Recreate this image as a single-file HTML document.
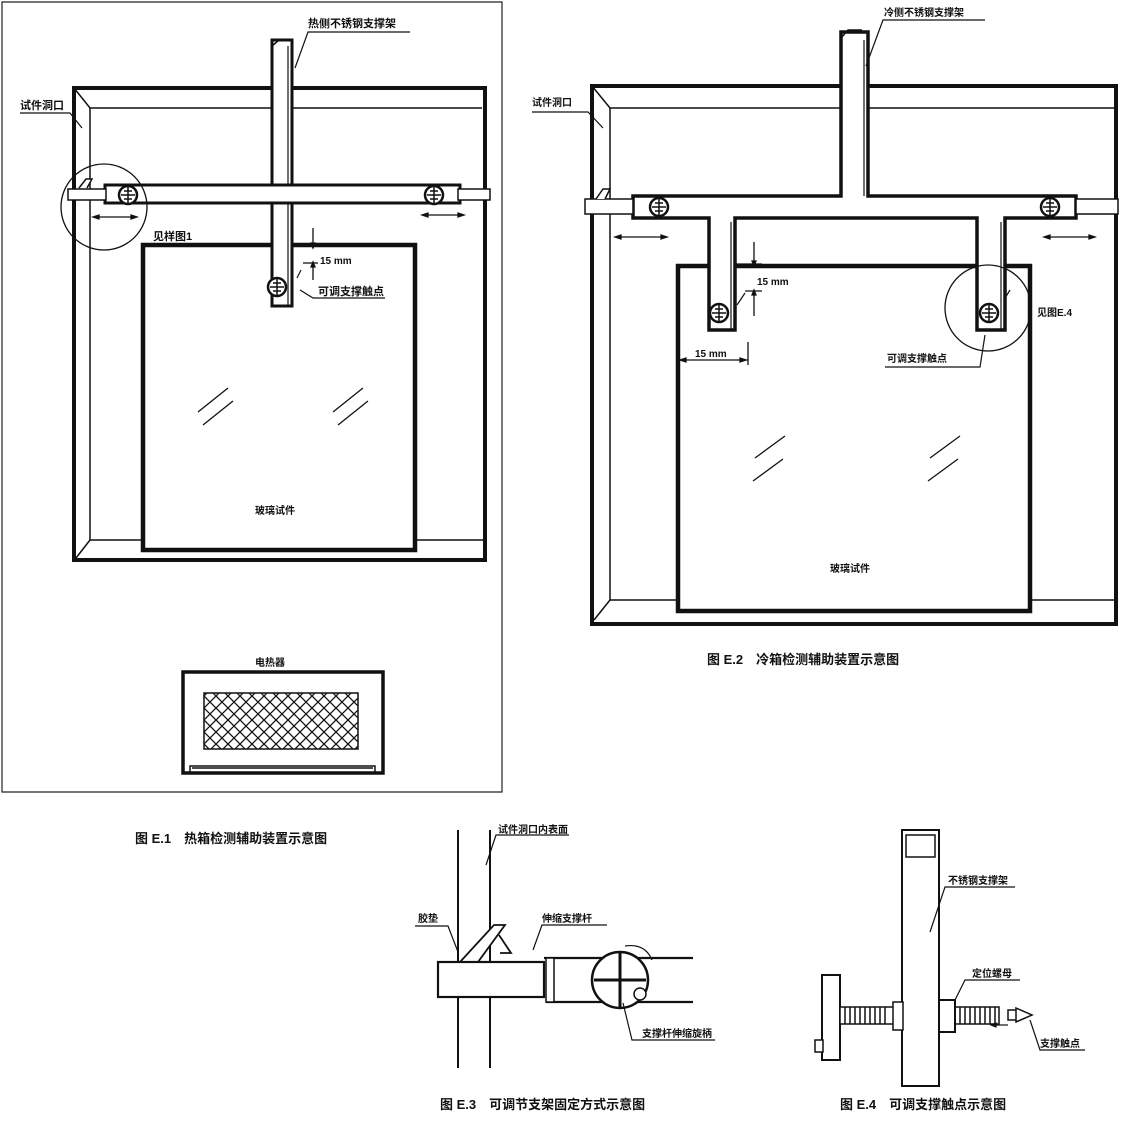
<!DOCTYPE html>
<html><head><meta charset="utf-8"><style>
html,body{margin:0;padding:0;background:#fff;}
svg{display:block;}
text{font-family:"Liberation Sans","Noto Sans CJK SC",sans-serif;font-weight:bold;fill:#111;}
</style></head><body>
<svg width="1134" height="1134" viewBox="0 0 1134 1134" xmlns="http://www.w3.org/2000/svg">
<defs>
<g id="wh">
<circle cx="0" cy="0" r="9" fill="#fff" stroke="#111" stroke-width="2.5"/>
<line x1="-7" y1="0" x2="7" y2="0" stroke="#111" stroke-width="1.5"/>
<line x1="-4" y1="-4" x2="4" y2="-4" stroke="#111" stroke-width="1.5"/>
<line x1="-4" y1="4" x2="4" y2="4" stroke="#111" stroke-width="1.5"/>
<line x1="0" y1="-8" x2="0" y2="8" stroke="#111" stroke-width="1.5"/>
</g>
<pattern id="mesh" width="12" height="12" patternUnits="userSpaceOnUse">
<path d="M0 0L12 12M12 0L0 12" stroke="#111" stroke-width="1.3"/>
</pattern>
</defs>

<!-- ============ E.1 ============ -->
<path d="M2 2H502V792H2Z" fill="none" stroke="#222" stroke-width="1.2"/>
<g fill="none" stroke="#111">
<rect x="74" y="88" width="411" height="472" stroke-width="4"/>
<path d="M74 88L90 108H482" stroke-width="1.5"/>
<path d="M90 108V540H143M415 540H483" stroke-width="1.5"/>
<path d="M90 540L76 558" stroke-width="1.5"/>
<rect x="143" y="245" width="272" height="305" stroke-width="4.5"/>
<path d="M198 412L228 388M203 425L233 401M333 412L363 388M338 425L368 401" stroke-width="1.3"/>
</g>
<!-- vertical bar -->
<rect x="272" y="40" width="20" height="266" fill="#fff" stroke="#111" stroke-width="3"/>
<path d="M272 46L279 40H292" fill="none" stroke="#111" stroke-width="1.5"/>
<line x1="288" y1="46" x2="288" y2="306" stroke="#111" stroke-width="1.2"/>
<!-- horizontal bar -->
<rect x="105" y="185" width="355" height="18" fill="#fff" stroke="#111" stroke-width="3"/>
<rect x="68" y="189" width="38" height="11" fill="#fff" stroke="#111" stroke-width="1.5"/>
<rect x="458" y="189" width="32" height="11" fill="#fff" stroke="#111" stroke-width="1.5"/>
<rect x="274" y="187" width="16" height="14" fill="#fff"/>
<path d="M79 188L86 179H92L87 188" fill="#fff" stroke="#111" stroke-width="1.5"/>
<use href="#wh" x="128" y="195"/><use href="#wh" x="434" y="195"/>
<use href="#wh" x="277" y="287"/>
<circle cx="104" cy="207" r="43" fill="none" stroke="#111" stroke-width="1.3"/>
<!-- arrows -->
<g stroke="#111" stroke-width="1.3" fill="#111">
<line x1="95" y1="217" x2="135" y2="217"/><path d="M93 217l6-2v4z M137 217l-6-2v4z"/>
<line x1="424" y1="215" x2="462" y2="215"/><path d="M422 215l6-2v4z M464 215l-6-2v4z"/>
<line x1="313" y1="228" x2="313" y2="248"/><path d="M313 248l-2-5h4z"/>
<line x1="313" y1="262" x2="313" y2="280"/><path d="M313 262l-2 5h4z"/>
<line x1="303" y1="246" x2="318" y2="246"/><line x1="303" y1="263" x2="318" y2="263"/>
</g>
<!-- leaders -->
<g fill="none" stroke="#111" stroke-width="1.2">
<path d="M295 68L308 32H410"/>
<path d="M82 128L70 113H20"/>
<path d="M300 290L313 298H385"/>
<path d="M297 278L301 270"/>
</g>
<text x="308" y="27" font-size="11">热侧不锈钢支撑架</text>
<text x="20" y="109" font-size="11">试件洞口</text>
<text x="153" y="240" font-size="11">见样图1</text>
<text x="320" y="264" font-size="10" font-weight="normal">15 mm</text>
<text x="318" y="295" font-size="11">可调支撑触点</text>
<text x="255" y="514" font-size="10">玻璃试件</text>
<!-- heater -->
<text x="255" y="666" font-size="10">电热器</text>
<rect x="183" y="672" width="200" height="101" fill="#fff" stroke="#111" stroke-width="3.5"/>
<rect x="204" y="693" width="154" height="56" fill="url(#mesh)" stroke="#111" stroke-width="1.5"/>
<path d="M190 773V766H375V773M192 768H373" fill="none" stroke="#111" stroke-width="1.5"/>
<text x="135" y="843" font-size="13">图 E.1　热箱检测辅助装置示意图</text>

<!-- ============ E.2 ============ -->
<g fill="none" stroke="#111">
<rect x="592" y="86" width="524" height="538" stroke-width="4"/>
<path d="M592 86L610 108H1114" stroke-width="1.5"/>
<path d="M610 108V600H678M1030 600H1114" stroke-width="1.5"/>
<path d="M610 600L594 620" stroke-width="1.5"/>
<rect x="678" y="266" width="352" height="345" stroke-width="4.5"/>
<path d="M755 458L785 436M753 481L783 459M930 458L960 436M928 481L958 459" stroke-width="1.3"/>
</g>
<!-- T frame -->
<path d="M841 32V196H633V218H709V330H735V218H977V330H1005V218H1076V196H868V32Z" fill="#fff" stroke="#111" stroke-width="3.5"/>
<path d="M841 38L848 30H862" fill="none" stroke="#111" stroke-width="1.5"/>
<line x1="864" y1="40" x2="864" y2="196" stroke="#111" stroke-width="1.2"/>
<line x1="731" y1="222" x2="731" y2="330" stroke="#111" stroke-width="1.2"/>
<line x1="1001" y1="222" x2="1001" y2="330" stroke="#111" stroke-width="1.2"/>
<rect x="585" y="199" width="48" height="15" fill="#fff" stroke="#111" stroke-width="1.5"/>
<rect x="1076" y="199" width="42" height="15" fill="#fff" stroke="#111" stroke-width="1.5"/>
<path d="M596 199L603 189H610L605 199" fill="#fff" stroke="#111" stroke-width="1.5"/>
<use href="#wh" x="659" y="207"/><use href="#wh" x="1050" y="207"/>
<use href="#wh" x="719" y="313"/><use href="#wh" x="989" y="313"/>
<circle cx="988" cy="308" r="43" fill="none" stroke="#111" stroke-width="1.3"/>
<g stroke="#111" stroke-width="1.3" fill="#111">
<line x1="617" y1="237" x2="665" y2="237"/><path d="M615 237l6-2v4z M667 237l-6-2v4z"/>
<line x1="1046" y1="237" x2="1093" y2="237"/><path d="M1044 237l6-2v4z M1095 237l-6-2v4z"/>
<line x1="754" y1="242" x2="754" y2="266"/><path d="M754 266l-2-5h4z"/>
<line x1="754" y1="290" x2="754" y2="316"/><path d="M754 290l-2 5h4z"/>
<line x1="736" y1="264" x2="762" y2="264"/><line x1="745" y1="291" x2="762" y2="291"/>
<line x1="678" y1="360" x2="748" y2="360"/><path d="M680 360l6-2v4z M746 360l-6-2v4z"/>
<line x1="748" y1="342" x2="748" y2="365"/>
</g>
<g fill="none" stroke="#111" stroke-width="1.2">
<path d="M866 66L883 20H985"/>
<path d="M603 128L588 112H532"/>
<path d="M737 305L745 293"/>
<path d="M985 335L980 367H885"/>
<path d="M1005 298L1010 290"/>
</g>
<text x="884" y="16" font-size="10">冷侧不锈钢支撑架</text>
<text x="532" y="106" font-size="10" font-weight="normal">试件洞口</text>
<text x="757" y="285" font-size="10" font-weight="normal">15 mm</text>
<text x="695" y="357" font-size="10" font-weight="normal">15 mm</text>
<text x="1037" y="316" font-size="10" font-weight="normal">见图E.4</text>
<text x="887" y="362" font-size="10">可调支撑触点</text>
<text x="830" y="572" font-size="10" font-weight="normal">玻璃试件</text>
<text x="707" y="664" font-size="13">图 E.2　冷箱检测辅助装置示意图</text>

<!-- ============ E.3 ============ -->
<g fill="none" stroke="#111" stroke-width="2">
<line x1="458" y1="830" x2="458" y2="1068"/>
<line x1="490" y1="830" x2="490" y2="1068"/>
</g>
<path d="M460 962L494 925H505L478 962Z" fill="#fff" stroke="#111" stroke-width="1.8"/>
<path d="M499 935L511 953H500" fill="#fff" stroke="#111" stroke-width="1.8"/>
<rect x="438" y="962" width="106" height="35" fill="#fff" stroke="#111" stroke-width="2.2"/>
<path d="M544 958H693M546 1002H693" fill="none" stroke="#111" stroke-width="2.2"/>
<rect x="546" y="958" width="8" height="44" fill="#fff" stroke="#111" stroke-width="1.5"/>
<ellipse cx="620" cy="980" rx="28" ry="28" fill="#fff" stroke="#111" stroke-width="2.5"/>
<path d="M594 980H646M620 953V1007" stroke="#111" stroke-width="3"/>
<circle cx="640" cy="994" r="6" fill="#fff" stroke="#111" stroke-width="1.5"/>
<path d="M625 946Q645 943 652 960" fill="none" stroke="#111" stroke-width="1.2"/>
<g fill="none" stroke="#111" stroke-width="1.2">
<path d="M486 865L496 835H569"/>
<path d="M458 952L448 926H415"/>
<path d="M533 950L542 925H607"/>
<path d="M623 1003L632 1040H715"/>
</g>
<text x="498" y="833" font-size="10">试件洞口内表面</text>
<text x="418" y="922" font-size="10">胶垫</text>
<text x="542" y="922" font-size="10">伸缩支撑杆</text>
<text x="642" y="1037" font-size="10">支撑杆伸缩旋柄</text>
<text x="440" y="1109" font-size="13" font-weight="normal">图 E.3　可调节支架固定方式示意图</text>

<!-- ============ E.4 ============ -->
<rect x="902" y="830" width="37" height="256" fill="#fff" stroke="#111" stroke-width="2"/>
<rect x="906" y="835" width="29" height="22" fill="#fff" stroke="#111" stroke-width="1.5"/>
<rect x="822" y="975" width="18" height="85" fill="#fff" stroke="#111" stroke-width="2"/>
<rect x="815" y="1040" width="8" height="12" fill="#fff" stroke="#111" stroke-width="1.5"/>
<rect x="840" y="1007" width="62" height="17" fill="#fff" stroke="#111" stroke-width="1.5"/>
<rect x="939" y="1007" width="60" height="17" fill="#fff" stroke="#111" stroke-width="1.5"/>
<path d="M845 1007v17M850 1007v17M855 1007v17M860 1007v17M865 1007v17M870 1007v17M875 1007v17M880 1007v17M885 1007v17M960 1007v17M965 1007v17M970 1007v17M975 1007v17M980 1007v17M985 1007v17M990 1007v17M995 1007v17" stroke="#111" stroke-width="1.5"/>
<rect x="893" y="1002" width="10" height="28" fill="#fff" stroke="#111" stroke-width="1.5"/>
<rect x="939" y="1000" width="16" height="32" fill="#fff" stroke="#111" stroke-width="2"/>
<path d="M1008 1010h8v10h-8zM1016 1008L1032 1015L1016 1022Z" fill="#fff" stroke="#111" stroke-width="1.5"/>
<g stroke="#111" stroke-width="1.2" fill="#111">
<line x1="993" y1="1025" x2="1008" y2="1025"/><path d="M991 1025l5-2v4z"/>
</g>
<g fill="none" stroke="#111" stroke-width="1.2">
<path d="M930 932L945 887H1015"/>
<path d="M955 1000L965 980H1020"/>
<path d="M1030 1020L1040 1050H1085"/>
</g>
<text x="948" y="884" font-size="10">不锈钢支撑架</text>
<text x="972" y="977" font-size="10">定位螺母</text>
<text x="1040" y="1047" font-size="10">支撑触点</text>
<text x="840" y="1109" font-size="13" font-weight="normal">图 E.4　可调支撑触点示意图</text>
</svg>
</body></html>
